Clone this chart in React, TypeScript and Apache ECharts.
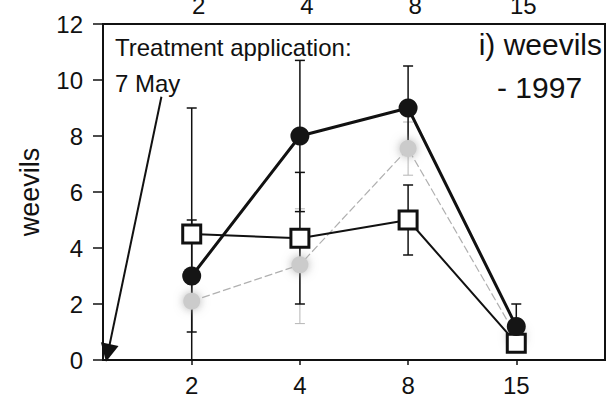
import React, { useEffect, useRef } from "react";
import * as echarts from "echarts";

const categories = ["2", "4", "8", "15"];
const yTicks = [0, 2, 4, 6, 8, 10, 12];

const circleMean = [3, 8, 9, 1.2];
const circleLow = [1, 5.3, 7.5, 0.4];
const circleHigh = [5, 10.7, 10.5, 2.0];

const squareMean = [4.5, 4.35, 5, 0.6];
const squareLow = [0, 2.0, 3.75, 0.3];
const squareHigh = [9, 6.7, 6.25, 0.9];

const grayMean = [2.1, 3.4, 7.55, 0.85];
const grayLow = [1.9, 1.3, 6.6, 0.35];
const grayHigh = [2.3, 5.4, 8.5, 1.3];

const FONT = "'Liberation Sans', Arial, sans-serif";

const idx = categories.map((_, i) => i);

function errData(low: number[], high: number[]) {
  return idx.map((i) => [i, low[i], high[i]]);
}

function errSeries(low: number[], high: number[], color: string, width: number, z: number) {
  return {
    type: "custom",
    z,
    silent: true,
    data: errData(low, high),
    encode: { x: 0, y: [1, 2] },
    renderItem: (params: any, api: any) => {
      const x = api.value(0);
      const top = api.coord([x, api.value(2)]);
      const bot = api.coord([x, api.value(1)]);
      const hw = 5;
      const style = { stroke: color, lineWidth: width };
      return {
        type: "group",
        children: [
          { type: "line", shape: { x1: top[0], y1: top[1], x2: bot[0], y2: bot[1] }, style },
          { type: "line", shape: { x1: top[0] - hw, y1: top[1], x2: top[0] + hw, y2: top[1] }, style },
          { type: "line", shape: { x1: bot[0] - hw, y1: bot[1], x2: bot[0] + hw, y2: bot[1] }, style },
        ],
      };
    },
  };
}

export default function App() {
  const ref = useRef<HTMLDivElement>(null);
  useEffect(() => {
    if (!ref.current) return;
    const chart = echarts.init(ref.current, null, { renderer: "svg" });
    const option: any = {
      animation: false,
      backgroundColor: "#ffffff",
      textStyle: { fontFamily: FONT },
      grid: {
        left: 103,
        right: 6,
        top: 24,
        bottom: 34,
        show: true,
        borderColor: "#111",
        borderWidth: 2,
        containLabel: false,
        outerBoundsMode: "none",
      },
      xAxis: [
        {
          type: "value",
          min: -0.82,
          max: 3.82,
          position: "bottom",
          axisLine: { show: true, onZero: false, lineStyle: { color: "#111", width: 2 } },
          axisTick: { show: true, length: 5, customValues: idx, lineStyle: { color: "#111", width: 1.5 } },
          axisLabel: {
            customValues: idx,
            formatter: (v: number) => categories[Math.round(v)] ?? "",
            fontSize: 24,
            color: "#111",
            margin: 13,
            fontFamily: FONT,
          },
          splitLine: { show: false },
        },
        {
          type: "value",
          min: -0.885,
          max: 3.755,
          position: "top",
          axisLine: { show: true, onZero: false, lineStyle: { color: "#111", width: 2 } },
          axisTick: { show: false },
          axisLabel: {
            customValues: idx,
            formatter: (v: number) => categories[Math.round(v)] ?? "",
            fontSize: 24,
            color: "#111",
            margin: 7,
            fontFamily: FONT,
          },
          splitLine: { show: false },
        },
      ],
      yAxis: {
        type: "value",
        min: 0,
        max: 12,
        interval: 2,
        name: "weevils",
        nameLocation: "middle",
        nameGap: 60,
        nameRotate: 90,
        nameTextStyle: { fontSize: 27, color: "#111", fontFamily: FONT },
        axisLine: { show: true, onZero: false, lineStyle: { color: "#111", width: 2 } },
        axisTick: { show: true, length: 10, lineStyle: { color: "#111", width: 1.5 } },
        axisLabel: {
          fontSize: 24,
          color: "#111",
          margin: 20,
          fontFamily: FONT,
          formatter: (v: number) => (yTicks.includes(v) ? String(v) : ""),
        },
        splitLine: { show: false },
      },
      series: [
        errSeries(grayLow, grayHigh, "#b5b5b5", 1, 1),
        errSeries(squareLow, squareHigh, "#111", 1.5, 2),
        errSeries(circleLow, circleHigh, "#111", 1.5, 2),
        {
          type: "line",
          z: 3,
          data: idx.map((i) => [i, grayMean[i]]),
          symbol: "circle",
          symbolSize: 17,
          itemStyle: { color: "#cbcbcb", shadowBlur: 10, shadowColor: "rgba(170,170,170,0.9)" },
          lineStyle: { color: "#b0b0b0", width: 1.2, type: [8, 3] },
          silent: true,
        },
        {
          type: "line",
          z: 4,
          data: idx.map((i) => [i, squareMean[i]]),
          symbol: "rect",
          symbolSize: 18,
          itemStyle: { color: "#ffffff", borderColor: "#111", borderWidth: 3 },
          lineStyle: { color: "#111", width: 2 },
          silent: true,
        },
        {
          type: "line",
          z: 5,
          data: idx.map((i) => [i, circleMean[i]]),
          symbol: "circle",
          symbolSize: 19,
          itemStyle: { color: "#151515" },
          lineStyle: { color: "#111", width: 3 },
          silent: true,
          markLine: {
            silent: true,
            symbol: ["none", "triangle"],
            symbolSize: 18,
            label: { show: false },
            lineStyle: { color: "#111", width: 2, type: "solid" },
            emphasis: { disabled: true },
            data: [[{ coord: [-0.28, 9.4] }, { coord: [-0.775, 0.25] }]],
          },
        },
      ],
      graphic: [
        {
          type: "text",
          left: 115,
          top: 35,
          style: { text: "Treatment application:", fontSize: 24, fill: "#111", fontFamily: FONT },
        },
        {
          type: "text",
          left: 115,
          top: 71,
          style: { text: "7 May", fontSize: 24, fill: "#111", fontFamily: FONT },
        },
        {
          type: "text",
          right: 9,
          top: 29,
          style: { text: "i) weevils", fontSize: 30, fill: "#111", fontFamily: FONT },
        },
        {
          type: "text",
          left: 497,
          top: 72,
          style: { text: "- 1997", fontSize: 30, fill: "#111", fontFamily: FONT },
        },
      ],
    };
    chart.setOption(option);
    return () => chart.dispose();
  }, []);
  return <div ref={ref} style={{ width: 611, height: 394, position: "absolute", left: 0, top: 0 }} />;
}
